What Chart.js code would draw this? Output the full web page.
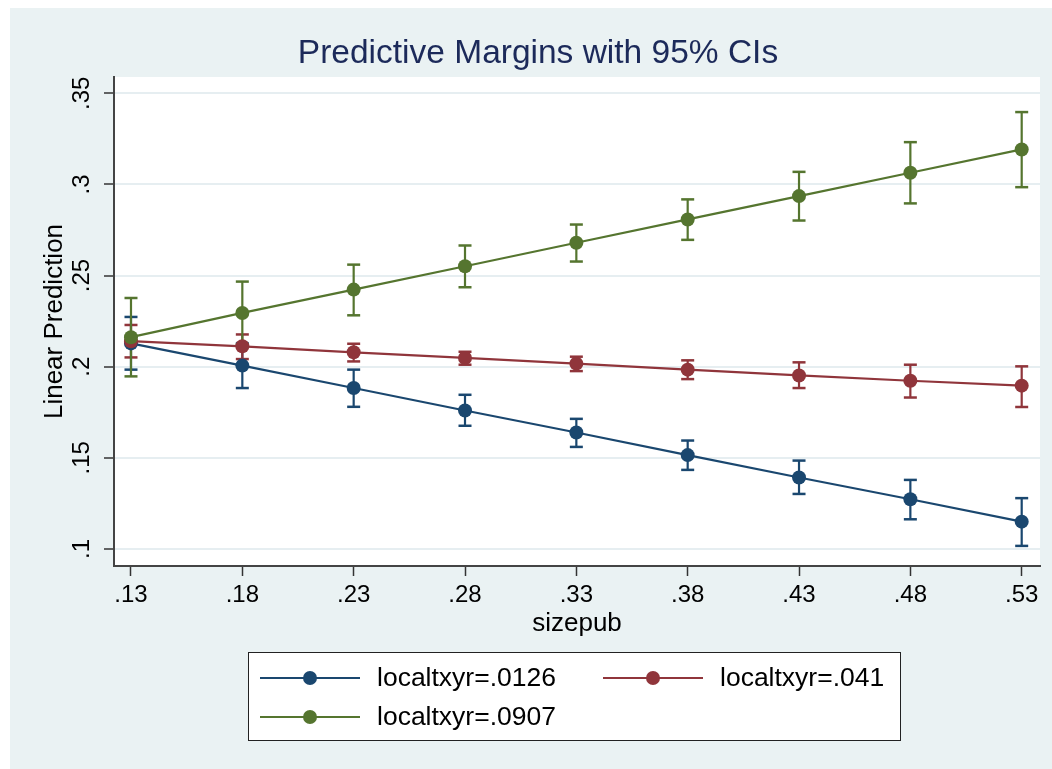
<!DOCTYPE html>
<html>
<head>
<meta charset="utf-8">
<title>Predictive Margins with 95% CIs</title>
<script src="https://cdn.jsdelivr.net/npm/chart.js@4.4.1/dist/chart.umd.min.js"></script>
<style>
  html, body { margin: 0; padding: 0; background: #fff; }
  canvas { display: block; }
</style>
</head>
<body>
<canvas id="chart-margins" width="1052" height="769"></canvas>
<script>
// x values and tick labels
var sizepub = [0.13, 0.18, 0.23, 0.28, 0.33, 0.38, 0.43, 0.48, 0.53];
var xTickLabels = [".13", ".18", ".23", ".28", ".33", ".38", ".43", ".48", ".53"];
var yTicks = [0.1, 0.15, 0.2, 0.25, 0.3, 0.35];
var yTickLabels = [".1", ".15", ".2", ".25", ".3", ".35"];

var seriesNames = ["localtxyr=.0126", "localtxyr=.041", "localtxyr=.0907"];
var seriesColors = ["#1a476f", "#90353b", "#55752f"];

// localtxyr=.0126
var margin0126 = [0.2128, 0.2006, 0.1883, 0.1760, 0.1639, 0.1515, 0.1392, 0.1273, 0.1150];
var lo0126 = [0.1984, 0.1883, 0.1780, 0.1676, 0.1560, 0.1434, 0.1302, 0.1163, 0.1017];
var hi0126 = [0.2273, 0.2128, 0.1984, 0.1846, 0.1714, 0.1595, 0.1485, 0.1379, 0.1279];

// localtxyr=.041
var margin041 = [0.2140, 0.2112, 0.2079, 0.2048, 0.2017, 0.1984, 0.1952, 0.1923, 0.1896];
var lo041 = [0.2051, 0.2042, 0.2029, 0.2011, 0.1976, 0.1932, 0.1883, 0.1831, 0.1779];
var hi041 = [0.2229, 0.2177, 0.2126, 0.2082, 0.2055, 0.2035, 0.2024, 0.2011, 0.2002];

// localtxyr=.0907
var margin0907 = [0.2162, 0.2295, 0.2423, 0.2551, 0.2680, 0.2808, 0.2936, 0.3064, 0.3192];
var lo0907 = [0.1947, 0.2123, 0.2282, 0.2436, 0.2577, 0.2696, 0.2802, 0.2896, 0.2985];
var hi0907 = [0.2377, 0.2467, 0.2560, 0.2665, 0.2780, 0.2918, 0.3069, 0.3232, 0.3397];

var FONT = "'Liberation Sans', Arial, Helvetica, sans-serif";

function points(ys) {
  return sizepub.map(function (x, i) { return { x: x, y: ys[i] }; });
}

// vertical whisker per x, broken with a null so the segments don't join
function whiskers(lo, hi) {
  var out = [];
  sizepub.forEach(function (x, i) {
    out.push({ x: x, y: lo[i] }, { x: x, y: hi[i] }, { x: x, y: null });
  });
  return out;
}

function lineSet(i, ys, order) {
  return {
    label: seriesNames[i],
    data: points(ys),
    borderColor: seriesColors[i],
    backgroundColor: seriesColors[i],
    borderWidth: 2.2,
    pointRadius: 7,
    pointBorderWidth: 0,
    pointBackgroundColor: seriesColors[i],
    tension: 0,
    order: order,
  };
}

function ciSet(i, lo, hi, order) {
  return {
    label: seriesNames[i] + " CI",
    data: whiskers(lo, hi),
    borderColor: seriesColors[i],
    borderWidth: 2.2,
    pointStyle: "line",
    pointRadius: 6.5,
    pointBorderWidth: 2.5,
    pointBorderColor: seriesColors[i],
    spanGaps: false,
    order: order,
  };
}

var background = {
  id: "background",
  beforeDraw: function (chart) {
    var c = chart.ctx;
    var a = chart.chartArea;
    c.save();
    c.fillStyle = "#ffffff";
    c.fillRect(0, 0, chart.width, chart.height);
    c.fillStyle = "#eaf2f3";
    c.fillRect(10, 8, chart.width - 10, chart.height - 8);
    c.fillStyle = "#ffffff";
    c.fillRect(a.left, a.top, a.right - a.left, a.bottom - a.top);
    c.restore();
  },
};

// Stata-style legend: boxed, two columns
var legendBox = {
  id: "legendBox",
  afterDraw: function (chart) {
    var c = chart.ctx;
    var cols = [260, 603];
    var rows = [678, 717];
    c.save();
    c.fillStyle = "#ffffff";
    c.fillRect(248.5, 652.5, 652, 88);
    c.strokeStyle = "#222222";
    c.lineWidth = 1;
    c.strokeRect(248.5, 652.5, 652, 88);
    seriesNames.forEach(function (name, i) {
      var x = cols[i % 2];
      var y = rows[Math.floor(i / 2)];
      c.strokeStyle = seriesColors[i];
      c.lineWidth = 2.2;
      c.beginPath();
      c.moveTo(x, y);
      c.lineTo(x + 100, y);
      c.stroke();
      c.fillStyle = seriesColors[i];
      c.beginPath();
      c.arc(x + 50, y, 7, 0, Math.PI * 2);
      c.fill();
      c.fillStyle = "#000000";
      c.font = "26.5px " + FONT;
      c.textBaseline = "middle";
      c.textAlign = "left";
      c.fillText(name, x + 117, y + 1);
    });
    c.restore();
  },
};

var ctx = document.getElementById("chart-margins").getContext("2d");

new Chart(ctx, {
  type: "line",
  data: {
    datasets: [
      lineSet(0, margin0126, 3),
      lineSet(1, margin041, 2),
      lineSet(2, margin0907, 1),
      ciSet(0, lo0126, hi0126, 6),
      ciSet(1, lo041, hi041, 5),
      ciSet(2, lo0907, hi0907, 4),
    ],
  },
  plugins: [background, legendBox],
  options: {
    responsive: false,
    animation: false,
    layout: {
      padding: { left: 24, right: 0, top: 0, bottom: 123 },
    },
    plugins: {
      legend: { display: false },
      tooltip: { enabled: false },
      title: {
        display: true,
        text: "Predictive Margins with 95% CIs",
        color: "#1c2a5a",
        font: { size: 33.5, family: FONT, weight: "normal", lineHeight: 1.2 },
        padding: { top: 34, bottom: 2.8 },
      },
    },
    scales: {
      x: {
        type: "linear",
        min: 0.12237,
        max: 0.53822,
        afterBuildTicks: function (scale) {
          scale.ticks = sizepub.map(function (v) { return { value: v }; });
        },
        afterFit: function (scale) {
          scale.height = 80;
        },
        grid: {
          drawOnChartArea: false,
          drawTicks: true,
          tickLength: 10,
          tickColor: "#333333",
          tickWidth: 1.5,
        },
        border: { display: true, color: "#444444", width: 2 },
        ticks: {
          autoSkip: false,
          maxRotation: 0,
          padding: 5,
          color: "#000000",
          font: { size: 24, family: FONT },
          callback: function (value, index) {
            return xTickLabels[index];
          },
        },
        title: {
          display: true,
          text: "sizepub",
          color: "#000000",
          font: { size: 26, family: FONT },
          padding: { top: 0, bottom: 6.4 },
        },
      },
      y: {
        type: "linear",
        position: "left",
        min: 0.09067,
        max: 0.35894,
        afterBuildTicks: function (scale) {
          scale.ticks = yTicks.map(function (v) { return { value: v }; });
        },
        afterFit: function (scale) {
          scale.width = 90;
        },
        grid: {
          color: "#e6eef1",
          lineWidth: 2,
          drawTicks: true,
          tickLength: 10,
          tickColor: "#333333",
          tickWidth: 1.5,
        },
        border: { display: true, color: "#444444", width: 2 },
        ticks: {
          autoSkip: false,
          minRotation: 90,
          maxRotation: 90,
          crossAlign: "center",
          padding: 5,
          color: "#000000",
          font: { size: 24, family: FONT },
          callback: function (value, index) {
            return yTickLabels[index];
          },
        },
        title: {
          display: true,
          text: "Linear Prediction",
          color: "#000000",
          font: { size: 26, family: FONT },
          padding: { top: 15.5, bottom: 0 },
        },
      },
      // empty right-hand spacer so the plot region stops short of the edge
      yRight: {
        type: "linear",
        position: "right",
        display: true,
        afterFit: function (scale) {
          scale.width = 12;
        },
        grid: { display: false },
        border: { display: false },
        ticks: { display: false },
      },
    },
  },
});
</script>
</body>
</html>
